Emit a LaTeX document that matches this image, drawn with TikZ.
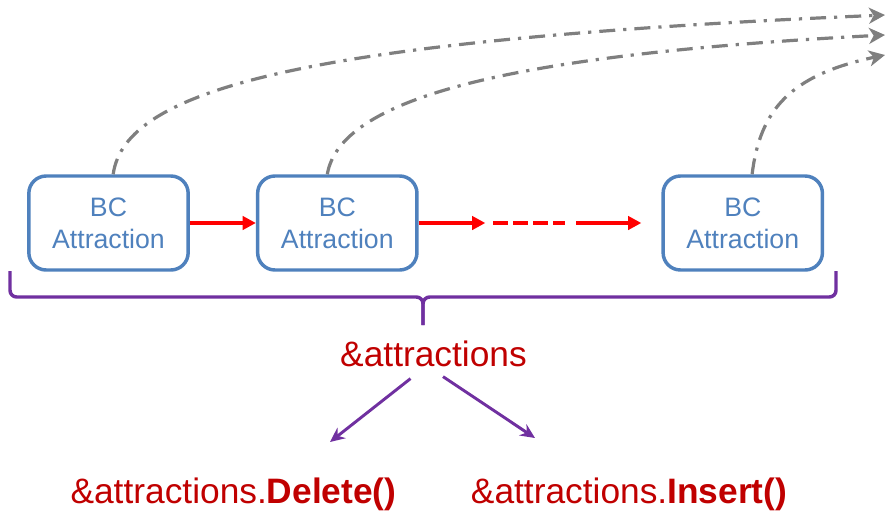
\documentclass[tikz,border=0pt]{standalone}
\usepackage{fontspec}
\setmainfont{Liberation Sans}
\usetikzlibrary{arrows.meta,calc,positioning}

\definecolor{boxblue}{HTML}{4F81BD}
\definecolor{listred}{HTML}{FF0000}
\definecolor{textred}{HTML}{C00000}
\definecolor{bracepurple}{HTML}{7030A0}
\definecolor{linkgray}{HTML}{7F7F7F}

\begin{document}
\begin{tikzpicture}[x=0.75pt,y=-0.75pt,
	attraction/.style={draw=boxblue,line width=2.6pt,rounded corners=13pt,minimum width=119.5pt,minimum height=70.5pt,text=boxblue,align=center,font=\fontsize{20}{24}\selectfont},
	nextptr/.style={draw=listred,line width=2.6pt,-{Triangle[length=10pt,width=10pt]}},
	link/.style={draw=linkgray,line width=2.4pt,dash pattern=on 12pt off 6pt on 2.4pt off 6pt,-{Stealth[length=12pt,width=12pt,inset=3.5pt]}},
	brace/.style={draw=bracepurple,line width=2.6pt,rounded corners=5pt},
	call/.style={draw=bracepurple,line width=2.2pt,-{Stealth[length=11pt,width=10pt]}},
	reftext/.style={text=textred,font=\fontsize{26.5}{30}\selectfont,inner sep=0pt}]
	\useasboundingbox (0,0) rectangle (885,514);

	% the list
	\node[attraction] (a1) at (108.5,223) {BC\\Attraction};
	\node[attraction] [right=49.5pt of a1] (a2) {BC\\Attraction};
	\node[attraction] [right=182pt of a2] (a3) {BC\\Attraction};

	\coordinate [right=50pt of a2.east] (gap1);
	\coordinate [right=56pt of a2.east] (dashL);
	\coordinate [left=72pt of a3.west] (dashR);
	\coordinate [left=64pt of a3.west] (gap2);
	\coordinate [left=15pt of a3.west] (gap3);

	\draw[nextptr] (a1) -- (a2);
	\draw[nextptr] (a2) -- (gap1);
	\draw[draw=listred,line width=2.6pt,dash pattern=on 11pt off 4pt] (dashL) -- (dashR);
	\draw[nextptr] (gap2) -- (gap3);

	% links going out
	\coordinate (out1) at (885,15);
	\coordinate (out2) at (885,35);
	\coordinate (out3) at (885,55);
	\draw[link] ([xshift=3.5pt]a1.north) .. controls (125,90) and (300,40) .. (out1);
	\draw[link] ([xshift=-7.5pt]a2.north) .. controls (340,100) and (500,55) .. (out2);
	\draw[link] ([xshift=7pt]a3.north) .. controls (760,110) and (790,75) .. (out3);

	% brace
	\coordinate (braceL) at (10,271);
	\coordinate (braceR) at (836,271);
	\coordinate (braceTip) at (423,325);
	\draw[brace] (braceL) |- (423,297) -- (braceTip);
	\draw[brace] (braceR) |- (423,297) -- (braceTip);

	% pointer and calls
	\node[reftext,anchor=base] (attr) at (433.5,366) {\&attractions};
	\node[reftext,anchor=base] (del) at (233.5,503) {\&attractions.\textbf{Delete()}};
	\node[reftext,anchor=base] (ins) at (629,503) {\&attractions.\textbf{Insert()}};

	\coordinate (delTip) at (330,442);
	\coordinate (insTip) at (535,438);
	\draw[call] ([shift={(-23,12)}]attr.south) -- (delTip);
	\draw[call] ([shift={(9.5,10)}]attr.south) -- (insTip);
\end{tikzpicture}
\end{document}
